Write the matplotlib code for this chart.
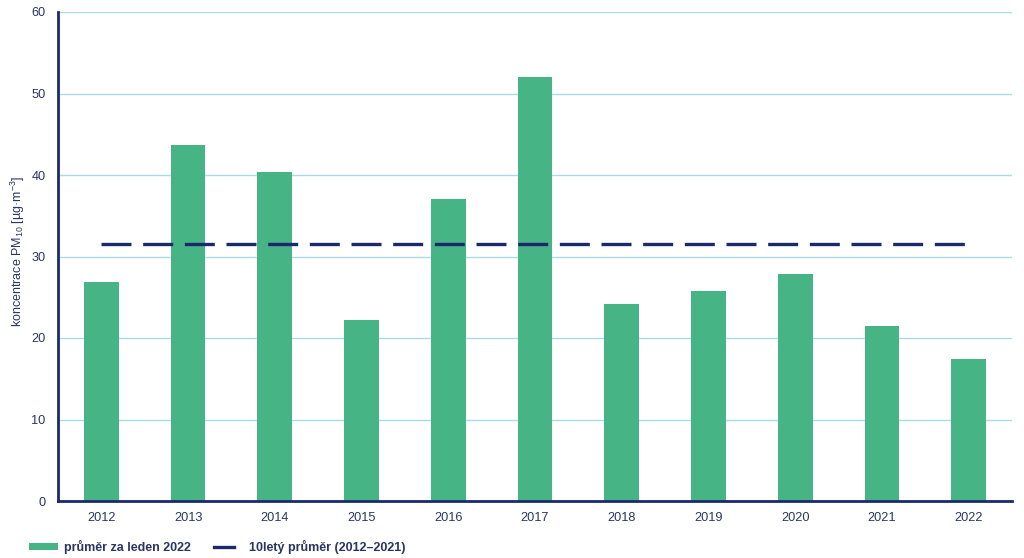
import matplotlib
matplotlib.use("Agg")
import matplotlib.pyplot as plt
from matplotlib.lines import Line2D
from matplotlib.patches import Patch
from matplotlib.legend_handler import HandlerBase

plt.rcParams['font.family'] = ['Liberation Sans', 'DejaVu Sans']

years = ['2012', '2013', '2014', '2015', '2016', '2017', '2018', '2019', '2020', '2021', '2022']
january_avg = [26.9, 43.7, 40.4, 22.2, 37.1, 52.0, 24.2, 25.8, 27.9, 21.5, 17.4]
ten_year_avg = 31.5
yticks = [0, 10, 20, 30, 40, 50, 60]

bar_color = '#47B486'
navy = '#1B2A6B'
grid_color = '#A9DCE5'
text_color = '#2A3563'


class ShortLineHandler(HandlerBase):
    def create_artists(self, legend, orig_handle, xdescent, ydescent,
                       width, height, fontsize, trans):
        y = height / 2 - ydescent
        line = Line2D([-xdescent, -xdescent + 0.7 * width], [y, y],
                      color=orig_handle.get_color(), lw=orig_handle.get_linewidth(),
                      transform=trans)
        return [line]


fig = plt.figure(figsize=(10.24, 5.58), dpi=100)
ax = fig.add_axes([58/1024, 1 - 501/558, (1012-58)/1024, (501-12)/558])

x = list(range(len(years)))
ax.bar(x, january_avg, width=0.4, color=bar_color, zorder=2)
ax.plot([x[0], x[-1]], [ten_year_avg, ten_year_avg], color=navy, lw=2.4,
        dashes=(9, 3.5), zorder=3)

ax.set_xlim(-0.5, len(years) - 0.5)
ax.set_ylim(0, 60)
ax.set_yticks(yticks)
ax.set_xticks(x)
ax.set_xticklabels(years)
ax.yaxis.grid(True, color=grid_color, lw=1)
ax.set_axisbelow(True)
for s in ['top', 'right']:
    ax.spines[s].set_visible(False)
for s in ['left', 'bottom']:
    ax.spines[s].set_color(navy)
    ax.spines[s].set_linewidth(2)
ax.tick_params(length=0, colors=text_color, labelsize=9.2)
ax.tick_params(axis='x', pad=8)
ax.tick_params(axis='y', pad=9)
ax.set_ylabel('koncentrace PM$_{\\mathregular{10}}$ [µg·m$^{\\mathregular{-3}}$]',
              color=text_color, fontsize=9)
ax.yaxis.set_label_coords(-0.032, 0.51)

line_handle = Line2D([0], [0], color=navy, lw=2.4)
handles = [Patch(facecolor=bar_color, edgecolor='none'), line_handle]
labels = ['průměr za leden 2022', '10letý průměr (2012–2021)']
leg = fig.legend(handles, labels, loc='center left', bbox_to_anchor=(0.017, 1 - 547/558),
                 ncol=2, frameon=False, handlelength=2.35, handleheight=0.5,
                 columnspacing=1.8, handletextpad=0.5,
                 handler_map={line_handle: ShortLineHandler()},
                 prop={'weight': 'bold', 'size': 9})
for t in leg.get_texts():
    t.set_color(text_color)

fig.savefig('out.png', dpi=100)
